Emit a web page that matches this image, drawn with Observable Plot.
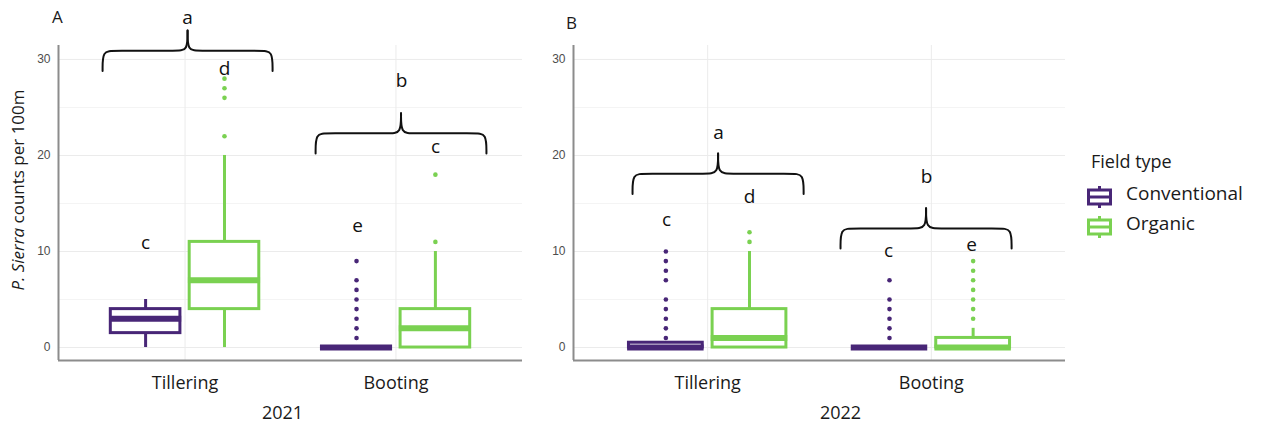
<!DOCTYPE html>
<html><head><meta charset="utf-8">
<script src="https://cdn.jsdelivr.net/npm/d3@7"></script>
<script src="https://cdn.jsdelivr.net/npm/@observablehq/plot@0.6"></script>
<style>
body{margin:0;background:#fff;}
#chart{position:relative;width:1261px;height:428px;font-family:"Open Sans",sans-serif;color:#1a1a1a;overflow:hidden;}
.abs{position:absolute;white-space:nowrap;}
.panel{position:absolute;top:0;}
</style>
</head><body><div id="chart"></div>
<script>
// ---------- data ----------
const stages = ["Tillering", "Booting"];
const fieldTypes = ["Conventional", "Organic"];
const fieldColors = ["#482677", "#7AD151"];
const years = ["2021", "2022"];
const panelLabels = ["A", "B"];
const yMajor = [0, 10, 20, 30];
const yMinor = [5, 15, 25];
const yLabel = ["P. Sierra", " counts per 100m"];

const boxes2021 = [
  {stage: "Tillering", type: "Conventional", lo: 0, q1: 1.5, med: 3, q3: 4, hi: 5},
  {stage: "Tillering", type: "Organic", lo: 0, q1: 4, med: 7, q3: 11, hi: 20},
  {stage: "Booting", type: "Conventional", lo: 0, q1: 0, med: 0, q3: 0, hi: 0},
  {stage: "Booting", type: "Organic", lo: 0, q1: 0, med: 2, q3: 4, hi: 10}
];
const outliers2021 = [
  {stage: "Tillering", type: "Organic", values: [22, 26, 27, 28]},
  {stage: "Booting", type: "Conventional", values: [1, 2, 3, 4, 5, 6, 7, 9]},
  {stage: "Booting", type: "Organic", values: [11, 18]}
];
const boxes2022 = [
  {stage: "Tillering", type: "Conventional", lo: 0, q1: 0, med: 0, q3: 0.5, hi: 0.5},
  {stage: "Tillering", type: "Organic", lo: 0, q1: 0, med: 1, q3: 4, hi: 10},
  {stage: "Booting", type: "Conventional", lo: 0, q1: 0, med: 0, q3: 0, hi: 0},
  {stage: "Booting", type: "Organic", lo: 0, q1: 0, med: 0, q3: 1, hi: 2}
];
const outliers2022 = [
  {stage: "Tillering", type: "Conventional", values: [1, 2, 3, 4, 5, 7, 8, 9, 10]},
  {stage: "Tillering", type: "Organic", values: [11, 12]},
  {stage: "Booting", type: "Conventional", values: [1, 2, 3, 4, 5, 7]},
  {stage: "Booting", type: "Organic", values: [3, 4, 5, 6, 7, 8, 9]}
];
// significance letters (x in category units, y in counts)
const letters2021 = [
  {x: 1.012, y: 34.3, text: "a"}, {x: 0.8125, y: 10.9, text: "c"}, {x: 1.187, y: 29.0, text: "d"},
  {x: 2.026, y: 27.8, text: "b"}, {x: 1.818, y: 12.7, text: "e"}, {x: 2.188, y: 20.9, text: "c"}
];
const letters2022 = [
  {x: 1.048, y: 22.4, text: "a"}, {x: 0.816, y: 13.3, text: "c"}, {x: 1.187, y: 15.7, text: "d"},
  {x: 1.979, y: 17.8, text: "b"}, {x: 1.809, y: 10.1, text: "c"}, {x: 2.18, y: 10.7, text: "e"}
];
const braces2021 = [{x1: 0.609, x2: 1.415, y: 30.9}, {x1: 1.619, x2: 2.429, y: 22.3}];
const braces2022 = [{x1: 0.664, x2: 1.429, y: 18.1}, {x1: 1.594, x2: 2.359, y: 12.4}];

// ---------- drawing ----------
const DODGE = 0.187, HALF = 0.165, DROP = 2.1, TIP = 2.1, E = 0.05;
const Y0 = -1.35, Y1 = 31.45, X0 = 0.4, X1 = 2.6;

function panel(cfg) {
  const xc = d => stages.indexOf(d.stage) + 1 + (d.type === fieldTypes[0] ? -DODGE : DODGE);
  const pts = cfg.outliers.flatMap(o => o.values.map(v => ({stage: o.stage, type: o.type, value: v})));
  const bracePts = cfg.braces.flatMap((b, i) => {
    const xm = (b.x1 + b.x2) / 2;
    const half = (xe, s) => [
      [xe, b.y - DROP], [xe, b.y - DROP], [xe, b.y - DROP], [xe, b.y], [xe + s * E, b.y],
      [xm - s * E, b.y], [xm, b.y], [xm, b.y + TIP], [xm, b.y + TIP], [xm, b.y + TIP]
    ];
    return [
      ...half(b.x1, 1).map(p => ({x: p[0], y: p[1], z: i * 2})),
      ...half(b.x2, -1).map(p => ({x: p[0], y: p[1], z: i * 2 + 1}))
    ];
  });
  return Plot.plot({
    width: cfg.width, height: 428,
    marginLeft: cfg.ml, marginRight: cfg.mr, marginTop: 45, marginBottom: 68,
    x: {type: "linear", domain: [X0, X1], axis: null},
    y: {domain: [Y0, Y1], axis: null},
    color: {domain: fieldTypes, range: fieldColors},
    style: {fontFamily: "'Open Sans', sans-serif", background: "transparent", overflow: "visible"},
    marks: [
      Plot.ruleY(yMinor, {stroke: "#f4f4f4", strokeWidth: 1}),
      Plot.ruleY(yMajor, {stroke: "#ebebeb", strokeWidth: 1}),
      Plot.ruleX(stages.map((s, i) => i + 1), {stroke: "#ebebeb", strokeWidth: 1}),
      Plot.ruleX([X0], {stroke: "#8c8c8c", strokeWidth: 2}),
      Plot.ruleY([Y0], {stroke: "#8c8c8c", strokeWidth: 2}),
      Plot.text(yMajor, {x: X0, y: d => d, text: d => String(d), textAnchor: "end", dx: -8,
        fontSize: 12, fill: "#4d4d4d", fontFamily: "'Liberation Sans', Arial, sans-serif"}),
      Plot.text(stages, {x: (d, i) => i + 1, y: Y0, dy: 23, text: d => d, fontSize: 18, fill: "#1a1a1a"}),
      Plot.text([cfg.year], {x: cfg.yearX, y: Y0, dy: 53, text: d => d, fontSize: 18, fill: "#1a1a1a"}),
      Plot.ruleX(cfg.boxes, {x: xc, y1: "q3", y2: "hi", stroke: "type", strokeWidth: 3}),
      Plot.ruleX(cfg.boxes, {x: xc, y1: "lo", y2: "q1", stroke: "type", strokeWidth: 3}),
      Plot.rect(cfg.boxes, {x1: d => xc(d) - HALF, x2: d => xc(d) + HALF, y1: "q1", y2: "q3",
        fill: "white", stroke: "type", strokeWidth: 3}),
      Plot.ruleY(cfg.boxes, {y: "med", x1: d => xc(d) - HALF - 0.006, x2: d => xc(d) + HALF + 0.006,
        stroke: "type", strokeWidth: 6}),
      Plot.dot(pts, {x: xc, y: "value", r: 2.3, fill: "type", stroke: "none"}),
      Plot.line(bracePts, {x: "x", y: "y", z: "z", curve: "basis", stroke: "#111", strokeWidth: 2}),
      Plot.text(cfg.letters, {x: "x", y: "y", text: "text", fontSize: 19, fill: "#111"})
    ]
  });
}

const chart = document.getElementById("chart");
const cfgs = [
  {year: years[0], boxes: boxes2021, outliers: outliers2021, letters: letters2021, braces: braces2021,
   left: 0, width: 540, ml: 58, mr: 18, yearX: 1.462},
  {year: years[1], boxes: boxes2022, outliers: outliers2022, letters: letters2022, braces: braces2022,
   left: 540, width: 540, ml: 33, mr: 15, yearX: 1.594}
];
cfgs.forEach(c => {
  const wrap = document.createElement("div");
  wrap.className = "panel";
  wrap.style.left = c.left + "px";
  wrap.appendChild(panel(c));
  chart.appendChild(wrap);
});

// panel letters
[[panelLabels[0], 52, 6], [panelLabels[1], 566, 12]].forEach(([t, x, y]) => {
  const d = document.createElement("div");
  d.className = "abs";
  d.style.cssText += `left:${x}px;top:${y}px;font-size:17px;line-height:22px;color:#1a1a1a;`;
  d.textContent = t;
  chart.appendChild(d);
});

// y-axis label
const yl = document.createElement("div");
yl.className = "abs";
yl.style.cssText += "left:17.5px;top:190px;font-size:17px;line-height:20px;transform:translate(-50%,-50%) rotate(-90deg);color:#1a1a1a;";
yl.innerHTML = `<i>${yLabel[0]}</i>${yLabel[1]}`;
chart.appendChild(yl);

// legend
const lg = d3.select(chart).append("svg").attr("class", "abs")
  .attr("width", 181).attr("height", 110)
  .style("left", "1080px").style("top", "140px")
  .style("font-family", "'Open Sans', sans-serif");
lg.append("text").attr("x", 11).attr("y", 22).attr("dy", "0.35em").attr("font-size", 18).attr("fill", "#1a1a1a").text("Field type");
fieldTypes.forEach((t, i) => {
  const cy = 57 + i * 30, col = fieldColors[i], g = lg.append("g");
  g.append("line").attr("x1", 19.5).attr("x2", 19.5).attr("y1", cy - 11).attr("y2", cy + 11).attr("stroke", col).attr("stroke-width", 3);
  g.append("rect").attr("x", 8.5).attr("y", cy - 7).attr("width", 22).attr("height", 14).attr("fill", "white").attr("stroke", col).attr("stroke-width", 3);
  g.append("line").attr("x1", 8.5).attr("x2", 30.5).attr("y1", cy).attr("y2", cy).attr("stroke", col).attr("stroke-width", 3);
  g.append("text").attr("x", 46).attr("y", cy - 4).attr("dy", "0.35em").attr("font-size", 19).attr("fill", "#1a1a1a").text(t);
});
</script></body></html>
